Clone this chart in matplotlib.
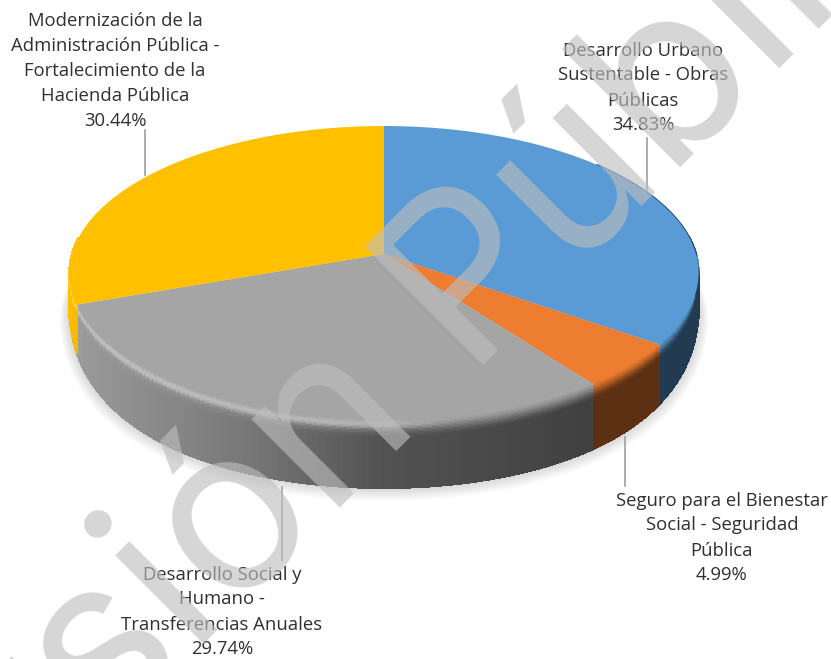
import numpy as np
import matplotlib
matplotlib.use("Agg")
import matplotlib.pyplot as plt
from matplotlib.collections import PolyCollection
from matplotlib.colors import to_rgb
from matplotlib.transforms import Transform

# ---- data ----
categories = [
    "Desarrollo Urbano\nSustentable - Obras\nPúblicas",
    "Seguro para el Bienestar\nSocial - Seguridad\nPública",
    "Desarrollo Social y\nHumano -\nTransferencias Anuales",
    "Modernización de la\nAdministración Pública -\nFortalecimiento de la\nHacienda Pública",
]
values = [34.83, 4.99, 29.74, 30.44]
colors = ["#5B9BD5", "#ED7D31", "#A5A5A5", "#FFC000"]
watermark = "Versión Pública"

# ---- layout ----
W, H = 831, 659
CX, CY, A, B, K = 384, 254, 312, 144.5, 0.129
label_pos = [(643, 88), (722, 538), (222, 612), (115, 71)]
leaders = [((647, 138), (647, 190)), ((625, 437), (625, 486)),
           ((282, 487), (282, 560)), ((145, 130), (145, 175))]


def project(u, v):
    d = 1 + K * v
    return CX + A * u / d, CY - B * v / d


class Perspective(Transform):
    input_dims = output_dims = 2
    is_separable = False
    has_inverse = False

    def transform_non_affine(self, xy):
        xy = np.asarray(xy, float)
        x, y = project(xy[:, 0], xy[:, 1])
        return np.column_stack([x, y])


def depth(v):
    t = np.clip(v + 1, 0, 1)
    return np.maximum(68 - 45 * t ** 2, 40)


fig = plt.figure(figsize=(W / 100, H / 100), dpi=100, facecolor="white")
ax = fig.add_axes([0, 0, 1, 1])

wedges, _ = ax.pie(values, colors=colors, startangle=90, counterclock=False, radius=1)
ax.set_aspect("auto")
ax.set_xlim(0, W)
ax.set_ylim(H, 0)
ax.axis("off")
persp = Perspective()
for w in wedges:
    w.set_transform(persp + ax.transData)
    w.set_zorder(3)
    w.set_linewidth(0)

# soft drop shadow below the rim
th = np.radians(np.linspace(0, 360, 361))
bx, by = project(np.cos(th), np.sin(th))
by = by + depth(np.sin(th))
for i in range(10):
    grow = 1 + 0.0032 * (10 - i)
    ax.fill(CX + (bx - CX) * grow, 270 + (by - 270) * grow + 1.2 * (10 - i) * 0.5,
            color="#000000", alpha=0.016, lw=0, zorder=1)

# rim with bevel
shade_x = [68, 85, 250, 383, 590, 700]
shade_v = [1.0, 0.93, 0.72, 0.50, 0.39, 0.38]
quads, fc = [], []
fracs = np.r_[np.linspace(0, 0.28, 15), np.linspace(0.31, 1, 4)]
for w in wedges:
    base = np.array(to_rgb(w.get_facecolor()[:3]))
    n = max(int(w.theta2 - w.theta1), 2)
    ang = np.linspace(w.theta1, w.theta2, n + 1)
    for a0, a1 in zip(ang[:-1], ang[1:]):
        am = np.radians((a0 + a1) / 2)
        if np.sin(am) > 0.12:
            continue
        r0, r1 = np.radians(a0), np.radians(a1)
        x0, y0 = project(np.cos(r0), np.sin(r0))
        x1, y1 = project(np.cos(r1), np.sin(r1))
        d0, d1 = depth(np.sin(r0)), depth(np.sin(r1))
        xm = (x0 + x1) / 2
        side = base * np.interp(xm, shade_x, shade_v)
        hl = np.interp(xm, [68, 383, 460, 590], [0.32, 0.28, 0.03, 0])
        for f0, f1 in zip(fracs[:-1], fracs[1:]):
            quads.append([(x0, y0 + d0 * f0), (x1, y1 + d1 * f0),
                          (x1, y1 + d1 * f1), (x0, y0 + d0 * f1)])
            fm = (f0 + f1) / 2
            s = min(fm / 0.28, 1)
            ramp = s * s * (3 - 2 * s)
            c = base * (1 - ramp) + side * ramp
            c = c + (1 - c) * hl * np.sin(np.pi * min(s * 1.6, 1)) ** 2
            fc.append(c)
ax.add_collection(PolyCollection(quads, facecolors=fc, edgecolors=fc, linewidths=0.9,
                                 antialiaseds=False, zorder=2))

# thin dark edge along the far right of the rim
rim = np.radians(np.linspace(0, 42, 40))
ex, ey = project(np.cos(rim), np.sin(rim))
ax.plot(ex, ey + 0.4, color="#1F3E5C", lw=1.6, zorder=2.5)

# leader lines
for (p0, p1) in leaders:
    ax.plot([p0[0], p1[0]], [p0[1], p1[1]], color="#A6A6A6", lw=1.3, zorder=4)

# labels
for cat, val, (x, y) in zip(categories, values, label_pos):
    ax.text(x, y, f"{cat}\n{val:.2f}%", ha="center", va="center", ma="center",
            family="Open Sans", fontsize=13.3, color="#303030", linespacing=1.5, zorder=5)

# watermark
ax.text(-161.5, 1008.5, watermark, rotation=45, rotation_mode="anchor", ha="left", va="baseline",
        family="Inter", fontsize=165, color="#BEBEBE", alpha=0.63, zorder=6, clip_on=True)

fig.savefig("out.png", dpi=100)
